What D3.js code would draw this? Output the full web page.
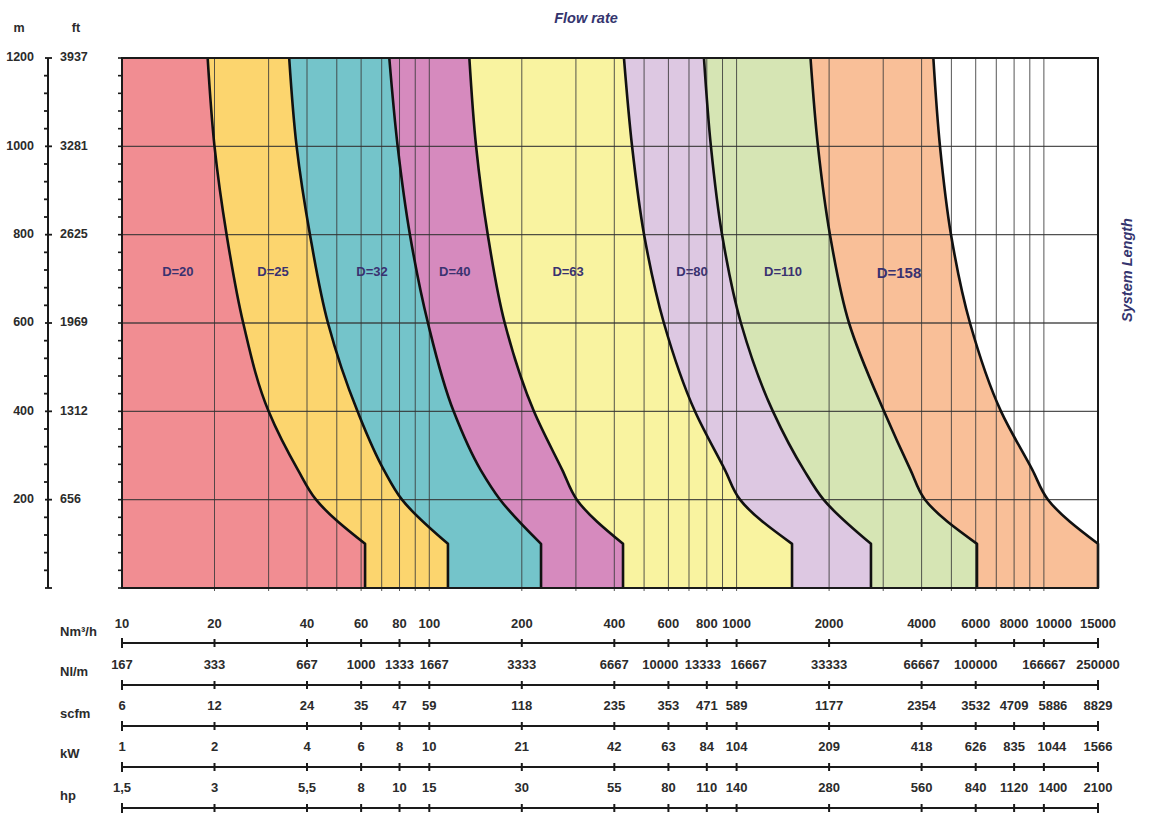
<!DOCTYPE html>
<html>
<head>
<meta charset="utf-8">
<script src="https://cdn.jsdelivr.net/npm/d3@7"></script>
<style>
  html, body { margin: 0; padding: 0; background: #fff; }
  svg { display: block; }
  text { font-family: "Liberation Sans", Arial, sans-serif; }
</style>
</head>
<body>
<svg id="chart" width="1158" height="837"></svg>
<script>
// ---------- DATA ----------
// System length levels (m) at which the boundary curves were read
const lengths = [1200, 1000, 800, 600, 400, 267, 200, 100];
// Boundary curves: flow rate (Nm³/h) at each length; below 100 m the boundary is vertical
const bD20_D25  = [19.0, 20.0, 21.9, 24.8, 30.0, 37.4, 42.8, 61.8];
const bD25_D32  = [35.0, 37.0, 40.9, 46.8, 58.4, 71.2, 81.5, 115];
const bD32_D40  = [74.1, 78.9, 86.5, 99.0, 120, 147, 170, 231];
const bD40_D63  = [135, 142, 155, 176, 219, 271, 302, 427];
const bD63_D80  = [430, 457, 500, 580, 732, 917, 1026, 1515];
const bD80_D110 = [783, 825, 897, 1033, 1313, 1657, 1919, 2737];
const bD110_D158 = [1740, 1840, 2013, 2322, 3018, 3683, 4104, 6058];
const bD158_end = [4368, 4591, 4986, 5748, 7252, 9182, 10311, 15000];

const bandNames = ["D=20", "D=25", "D=32", "D=40", "D=63", "D=80", "D=110", "D=158"];
const bandColors = ["#F18D92", "#FCD56E", "#74C4CA", "#D68ABE", "#F9F3A0", "#DDC8E2", "#D6E5B4", "#F9BF98"];
// label anchor positions (flow, length)
const bandLabelFlow = [15.2, 31.0, 65.1, 121, 283, 716, 1416, 3377];
const bandLabelLen = [715, 715, 715, 715, 715, 715, 715, 712];

// Length axis
const metreTicks = [200, 400, 600, 800, 1000, 1200];
const feetLabels = ["656", "1312", "1969", "2625", "3281", "3937"];

// Bottom flow-rate scales
const flowTicks = [10, 20, 40, 60, 80, 100, 200, 400, 600, 800, 1000, 2000, 4000, 6000, 8000, 10000, 15000];
const nm3hLabels = ["10","20","40","60","80","100","200","400","600","800","1000","2000","4000","6000","8000","10000","15000"];
const nlmLabels = ["167","333","667","1000","1333","1667","3333","6667","10000","13333","16667","33333","66667","100000",null,"166667","250000"];
const scfmLabels = ["6","12","24","35","47","59","118","235","353","471","589","1177","2354","3532","4709","5886","8829"];
const kwLabels = ["1","2","4","6","8","10","21","42","63","84","104","209","418","626","835","1044","1566"];
const hpLabels = ["1,5","3","5,5","8","10","15","30","55","80","110","140","280","560","840","1120","1400","2100"];
const rowTitles = ["Nm³/h", "Nl/m", "scfm", "kW", "hp"];

// ---------- CHART ----------
const svg = d3.select("#chart");
const L = 122, R = 1098, T = 58, B = 588;
const x = d3.scaleLog().domain([10, 15000]).range([L, R]);
const y = d3.scaleLinear().domain([0, 1200]).range([B, T]);

const boundaries = [bD20_D25, bD25_D32, bD32_D40, bD40_D63, bD63_D80, bD80_D110, bD110_D158, bD158_end];

const curveLine = d3.line()
  .x(d => x(d[0]))
  .y(d => y(d[1]))
  .curve(d3.curveMonotoneY);

function boundaryPath(b) {
  const pts = b.map((f, i) => [f, lengths[i]]);
  return curveLine(pts) + "L" + x(b[b.length - 1]) + "," + y(0);
}

// white background of plot
svg.append("rect").attr("x", L).attr("y", T).attr("width", R - L).attr("height", B - T).attr("fill", "#fff");

// fills: draw widest first
for (let i = boundaries.length - 1; i >= 0; i--) {
  const d = boundaryPath(boundaries[i]) + "L" + x(10) + "," + y(0) + "L" + x(10) + "," + y(1200) + "Z";
  svg.append("path").attr("d", d).attr("fill", bandColors[i]).attr("stroke", "none");
}

// grid
const vTicks = x.ticks().filter(v => v > 10 && v < 15000);
svg.append("g").selectAll("line").data(vTicks).join("line")
  .attr("x1", d => x(d)).attr("x2", d => x(d))
  .attr("y1", T).attr("y2", B + 3)
  .attr("stroke", "#3a3a3a").attr("stroke-width", 1).attr("opacity", 0.85);
svg.append("g").selectAll("line").data([200, 400, 600, 800, 1000]).join("line")
  .attr("x1", L).attr("x2", R)
  .attr("y1", d => y(d)).attr("y2", d => y(d))
  .attr("stroke", "#333").attr("stroke-width", 1.3).attr("opacity", 0.85);

// boundary curves
boundaries.forEach(b => {
  svg.append("path").attr("d", boundaryPath(b))
    .attr("fill", "none").attr("stroke", "#111").attr("stroke-width", 2.6)
    .attr("stroke-linejoin", "round");
});

// plot border
svg.append("rect").attr("x", L).attr("y", T).attr("width", R - L).attr("height", B - T)
  .attr("fill", "none").attr("stroke", "#1a1a1a").attr("stroke-width", 2);

// minor ticks on plot left edge
const minorLen = d3.range(0, 1201, 40);
svg.append("g").selectAll("line").data(minorLen).join("line")
  .attr("x1", L - 4).attr("x2", L).attr("y1", d => y(d)).attr("y2", d => y(d))
  .attr("stroke", "#1a1a1a").attr("stroke-width", 1.6);

// band labels
bandNames.forEach((n, i) => {
  svg.append("text").attr("x", x(bandLabelFlow[i])).attr("y", y(bandLabelLen[i]))
    .attr("text-anchor", "middle").attr("dominant-baseline", "middle")
    .attr("font-size", i === 7 ? 15 : 13).attr("font-weight", "bold")
    .attr("fill", "#3a3270").text(n);
});

// left length axis
const AX = 48;
svg.append("line").attr("x1", AX).attr("x2", AX).attr("y1", y(1200)).attr("y2", y(0))
  .attr("stroke", "#1a1a1a").attr("stroke-width", 2);
svg.append("g").selectAll("line").data(minorLen).join("line")
  .attr("x1", d => d % 200 === 0 ? AX - 3 : AX - 4).attr("x2", d => d % 200 === 0 ? AX + 4 : AX)
  .attr("y1", d => y(d)).attr("y2", d => y(d))
  .attr("stroke", "#1a1a1a").attr("stroke-width", 1.8);
metreTicks.forEach((m, i) => {
  svg.append("text").attr("x", 34).attr("y", y(m)).attr("text-anchor", "end")
    .attr("dominant-baseline", "middle").attr("font-size", 12.5).attr("font-weight", "bold")
    .attr("fill", "#2b2b2b").text(m);
  svg.append("text").attr("x", 60).attr("y", y(m)).attr("text-anchor", "start")
    .attr("dominant-baseline", "middle").attr("font-size", 12.5).attr("font-weight", "bold")
    .attr("fill", "#2b2b2b").text(feetLabels[i]);
});
svg.append("text").attr("x", 19).attr("y", 29).attr("text-anchor", "middle")
  .attr("dominant-baseline", "middle").attr("font-size", 12.5).attr("font-weight", "bold")
  .attr("fill", "#2b2b2b").text("m");
svg.append("text").attr("x", 76).attr("y", 29).attr("text-anchor", "middle")
  .attr("dominant-baseline", "middle").attr("font-size", 12.5).attr("font-weight", "bold")
  .attr("fill", "#2b2b2b").text("ft");

// titles
svg.append("text").attr("x", 586).attr("y", 19).attr("text-anchor", "middle")
  .attr("dominant-baseline", "middle").attr("font-size", 14.5).attr("font-weight", "bold")
  .attr("font-style", "italic").attr("fill", "#34346e").text("Flow rate");
svg.append("text").attr("transform", "translate(1128,270) rotate(-90)")
  .attr("text-anchor", "middle").attr("dominant-baseline", "middle")
  .attr("font-size", 14.5).attr("font-weight", "bold").attr("font-style", "italic")
  .attr("fill", "#34346e").text("System Length");

// bottom scales
const rows = [nm3hLabels, nlmLabels, scfmLabels, kwLabels, hpLabels];
const lineY = [643, 685, 726, 767, 808];
const labelY = [625, 666, 707, 748, 789];
const titleY = [633, 673, 715, 755, 797];
// small horizontal nudges (px) for crowded labels, keyed "row:index"
const labelNudge = { "0:15": 10, "1:5": 5, "1:8": -8, "1:9": -4, "1:10": 12, "2:15": 9, "3:15": 8, "4:15": 9 };
rows.forEach((labels, r) => {
  const g = svg.append("g");
  g.append("line").attr("x1", x(10)).attr("x2", x(15000)).attr("y1", lineY[r]).attr("y2", lineY[r])
    .attr("stroke", "#1a1a1a").attr("stroke-width", 2);
  flowTicks.forEach((f, i) => {
    if (labels[i] === null) return;
    const end = (i === 0 || i === flowTicks.length - 1);
    g.append("line").attr("x1", x(f)).attr("x2", x(f))
      .attr("y1", lineY[r] - (end ? 5 : 4)).attr("y2", lineY[r] + (end ? 5 : 4))
      .attr("stroke", "#1a1a1a").attr("stroke-width", 2);
    g.append("text").attr("x", x(f) + (labelNudge[r + ":" + i] || 0)).attr("y", labelY[r])
      .attr("text-anchor", "middle")
      .attr("dominant-baseline", "middle").attr("font-size", 13).attr("font-weight", "bold")
      .attr("fill", "#2b2b2b").text(labels[i]);
  });
  g.append("text").attr("x", 60).attr("y", titleY[r]).attr("text-anchor", "start")
    .attr("dominant-baseline", "middle").attr("font-size", 13).attr("font-weight", "bold")
    .attr("fill", "#2b2b2b").text(rowTitles[r]);
});
</script>
</body>
</html>
